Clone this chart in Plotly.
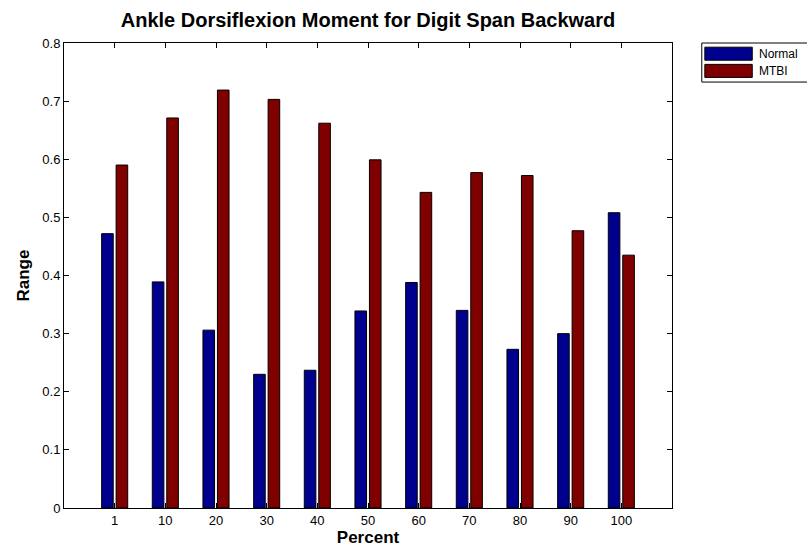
import plotly.graph_objects as go

# Grouped bar data: range of ankle dorsiflexion moment per percent bin
categories = ["1", "10", "20", "30", "40", "50", "60", "70", "80", "90", "100"]
normal = [0.472, 0.389, 0.306, 0.230, 0.237, 0.339, 0.388, 0.340, 0.273, 0.300, 0.508]
mtbi = [0.590, 0.671, 0.719, 0.703, 0.662, 0.599, 0.543, 0.577, 0.572, 0.477, 0.435]
y_ticks = [0, 0.1, 0.2, 0.3, 0.4, 0.5, 0.6, 0.7, 0.8]

positions = list(range(1, len(categories) + 1))
BLUE = "#00008F"
RED = "#800000"
FONT = "Liberation Sans, Arial, sans-serif"

fig = go.Figure()
fig.add_trace(go.Bar(x=positions, y=normal, name="Normal",
                     marker=dict(color=BLUE, line=dict(color="black", width=1)),
                     showlegend=False))
fig.add_trace(go.Bar(x=positions, y=mtbi, name="MTBI",
                     marker=dict(color=RED, line=dict(color="black", width=1)),
                     showlegend=False))

# Legend box drawn by hand, MATLAB style, with long color patches
legend_items = [("Normal", BLUE), ("MTBI", RED)]
shapes = [dict(type="rect", xref="paper", yref="paper",
               x0=1.049, x1=1.224, y0=0.916, y1=1.0,
               line=dict(color="black", width=1), fillcolor="white")]
annotations = []
row_y = [0.977, 0.94]
for (label, color), yc in zip(legend_items, row_y):
    shapes.append(dict(type="rect", xref="paper", yref="paper",
                       x0=1.054, x1=1.132, y0=yc - 0.014, y1=yc + 0.014,
                       line=dict(color="black", width=1), fillcolor=color))
    annotations.append(dict(text=label, xref="paper", yref="paper",
                            x=1.14, y=yc, xanchor="left", yanchor="middle",
                            showarrow=False, font=dict(size=12, family=FONT, color="black")))

fig.update_layout(
    width=807, height=552,
    margin=dict(l=64, r=135, t=43, b=44),
    paper_bgcolor="white", plot_bgcolor="white",
    barmode="group", bargap=0.428, bargroupgap=0.2,
    title=dict(text="<b>Ankle Dorsiflexion Moment for Digit Span Backward</b>",
               x=0.456, xanchor="center", y=0.963, yanchor="middle",
               font=dict(size=20, family=FONT, color="black")),
    font=dict(family=FONT, size=13, color="black"),
    shapes=shapes, annotations=annotations,
)
fig.update_xaxes(
    range=[0, 12], tickmode="array", tickvals=positions, ticktext=categories,
    ticks="inside", ticklen=5, tickcolor="black", showline=True, linecolor="black",
    linewidth=1, mirror="ticks", showgrid=False, zeroline=False,
    tickfont=dict(size=13, family=FONT, color="black"),
    title=dict(text="<b>Percent</b>", font=dict(size=17, family=FONT, color="black"), standoff=2),
)
fig.update_yaxes(
    range=[0, 0.8], tickmode="array", tickvals=y_ticks,
    ticktext=[f"{v:g}" for v in y_ticks],
    ticks="inside", ticklen=5, tickcolor="black", showline=True, linecolor="black",
    linewidth=1, mirror="ticks", showgrid=False, zeroline=False,
    tickfont=dict(size=13, family=FONT, color="black"),
    title=dict(text="<b>Range</b>", font=dict(size=17, family=FONT, color="black"), standoff=8),
)

fig.write_html("out.html")
